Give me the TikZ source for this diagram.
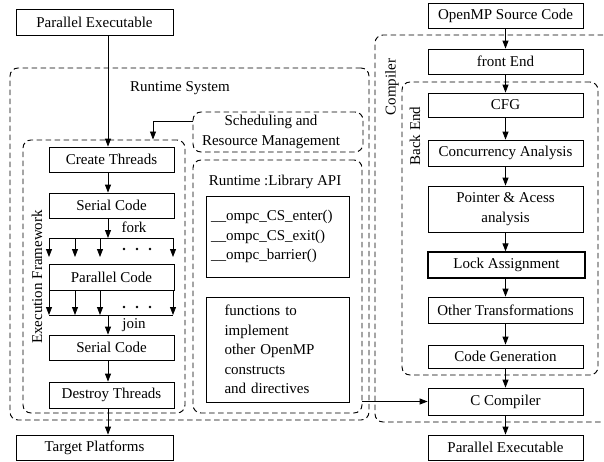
\documentclass[tikz,border=0pt]{standalone}
\usepackage{fontspec}
\setmainfont{Liberation Serif}
\usetikzlibrary{arrows.meta}
\begin{document}
\begin{tikzpicture}[x=1pt,y=-1pt,
  every node/.style={font=\fontsize{15}{19.5}\selectfont, inner sep=0pt},
  box/.style={draw, line width=0.8pt, minimum width=125pt, minimum height=25pt},
  rbox/.style={draw, line width=0.8pt, minimum width=155pt, minimum height=25pt},
  group/.style={draw, dash pattern=on 5.5pt off 3.5pt, line width=0.95pt, rounded corners=8pt},
  arr/.style={line width=0.8pt, -{Triangle[length=8pt,width=6pt]}},
  ln/.style={line width=0.8pt}]
\useasboundingbox (0,0) rectangle (604,461);
\clip (0,0) rectangle (604,461);
% groups
\node[group, minimum width=359pt, minimum height=352pt] (rs) at (189.5,244) {};
\node[group, minimum width=245pt, minimum height=387pt] (comp) at (497.5,228.5) {};
\node[group, minimum width=196pt, minimum height=293pt] (be) at (500,228.5) {};
\node[group, minimum width=162pt, minimum height=273pt] (ef) at (104,276.5) {};
\node[group, minimum width=170pt, minimum height=40pt] (sch) at (278,132) {};
\node[group, minimum width=169pt, minimum height=253pt] (lib) at (277.5,286.5) {};
% group labels
\node (rslab) at (180,88) {Runtime System};
\node[rotate=90] (complab) at (392,87) {Compiler};
\node[rotate=90] (belab) at (415,136) {Back End};
\node[rotate=90] (eflab) at (37,277) {Execution Framework};
\node[align=center] (schlab) at (271,132) {Scheduling and\\Resource Management};
\node (liblab) at (275,182) {Runtime :Library API};
% left column
\node[box, minimum width=157pt, minimum height=26pt] (pe1) at (94.5,22) {Parallel Executable};
\node[box] (ct) at (111.5,159.5) {Create Threads};
\node[box] (sc1) at (111.5,205.5) {Serial Code};
\node[box, minimum height=26pt] (pc) at (111.5,277) {Parallel Code};
\node[box] (sc2) at (111.5,347.5) {Serial Code};
\node[box, minimum height=26pt] (dt) at (111.5,395) {Destroy Threads};
\node[box, minimum width=157pt] (tp) at (94.5,447.5) {Target Platforms};
\coordinate (ax) at (108,0);
\coordinate (kx) at (153,0);
\node (fork) at (134,227) {fork};
\node (join) at (134,325) {join};
% library boxes
\node[draw, line width=0.8pt, minimum width=143pt, minimum height=81pt, text width=133pt, align=left] (ompc) at (277.5,236.5)
  {\_\_ompc\_CS\_enter()\\\_\_ompc\_CS\_exit()\\\_\_ompc\_barrier()};
\node[draw, line width=0.8pt, minimum width=143pt, minimum height=105pt, text width=106pt, align=left, xshift=6.5pt] (fn) at (271,349.5)
  {functions to\\implement\\other OpenMP\\constructs\\and directives};
% right column
\node[rbox] (osc) at (505.5,15.5) {OpenMP Source Code};
\node[rbox] (fe) at (505.5,61.5) {front End};
\node[rbox, minimum height=24pt] (cfg) at (505.5,105) {CFG};
\node[rbox, minimum height=26pt] (ca) at (505.5,153) {Concurrency Analysis};
\node[rbox, minimum height=46pt, align=center] (pa) at (505.5,209) {Pointer \& Acess\\analysis};
\node[rbox, line width=1.3pt, minimum width=157pt, minimum height=26pt] (la) at (506.5,265) {Lock Assignment};
\node[rbox, minimum height=26pt] (ot) at (505.5,310) {Other Transformations};
\node[rbox, minimum height=23pt] (cg) at (505.5,356.5) {Code Generation};
\node[rbox, minimum height=27pt] (cc) at (505.5,401.5) {C Compiler};
\node[rbox] (pe2) at (505.5,447.5) {Parallel Executable};
% left arrows
\draw[arr] (pe1.south -| ax) -- (ct.north -| ax);
\draw[arr] (ct.south -| ax) -- (sc1.north -| ax);
\draw[arr] ([yshift=11pt]sch.west) -| (ef.north -| kx);
\coordinate (fl) at (49,238);
\coordinate (fr) at (173,238);
\draw[ln] (fl) -- (fr);
\draw[arr] (sc1.south -| ax) -- (fl -| ax);
\foreach \x in {49,75,100,173} \draw[arr] (\x,238) -- (\x,257);
\foreach \x in {124,137,150} \fill (\x,249) circle (1.3pt);
\coordinate (jl) at (49,315);
\coordinate (jr) at (173,315);
\draw[ln] (jl) -- (jr);
\foreach \x in {49,75,100,173} \draw[arr] (\x,290) -- (\x,315);
\foreach \x in {124,137,150} \fill (\x,307) circle (1.3pt);
\draw[arr] (jl -| ax) -- (sc2.north -| ax);
\draw[arr] (sc2.south -| ax) -- (dt.north -| ax);
\draw[arr] (dt.south -| ax) -- (tp.north -| ax);
% right arrows
\draw[arr] (osc) -- (fe);
\draw[arr] (fe) -- (cfg);
\draw[arr] (cfg) -- (ca);
\draw[arr] (ca) -- (pa);
\draw[arr] (pa.south) -- (pa.south |- la.north);
\draw[arr] (la.south -| pa.south) -- (ot.north);
\draw[arr] (ot) -- (cg);
\draw[arr] (cg) -- (cc);
\draw[arr] (cc) -- (pe2);
\draw[arr] (cc.west -| lib.east) -- (cc.west);
\end{tikzpicture}
\end{document}
